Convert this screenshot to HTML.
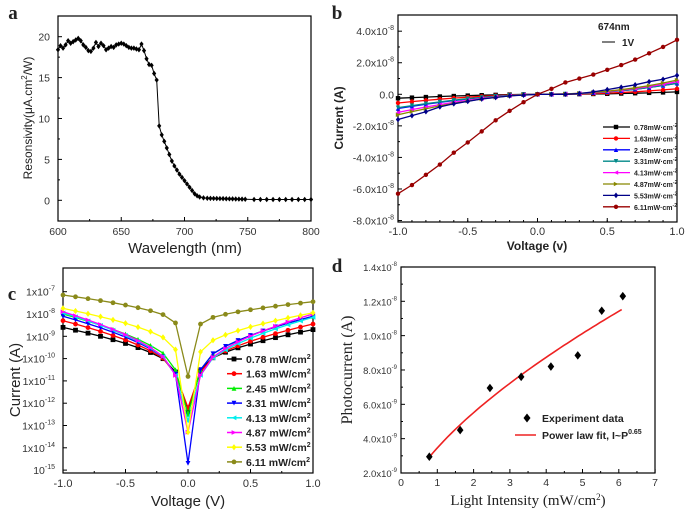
<!DOCTYPE html><html><head><style>body{margin:0;background:#fff}svg{display:block}</style></head><body>
<svg id="s" width="685" height="511" xmlns="http://www.w3.org/2000/svg" font-family="Liberation Sans, Arial, sans-serif"></svg>
<script>
const S=document.getElementById('s');let h='';
const T=(x,y,t,o={})=>{h+=`<text x="${x}" y="${y}" font-size="${o.fs||11}" text-anchor="${o.a||'middle'}" ${o.b?'font-weight="bold"':''} style="font-family:${o.ff?"'Liberation Serif',serif":"'Liberation Sans',Arial,sans-serif"}" ${o.tr?`transform="${o.tr}"`:''} fill="${o.c||'#222'}">${t}</text>`};
const L=(x1,y1,x2,y2,c='#000',w=1)=>{h+=`<line x1="${x1}" y1="${y1}" x2="${x2}" y2="${y2}" stroke="${c}" stroke-width="${w}"/>`};
const P=(pts,c,w=1)=>{h+=`<polyline points="${pts.map(p=>p[0].toFixed(1)+','+p[1].toFixed(1)).join(' ')}" fill="none" stroke="${c}" stroke-width="${w}"/>`};
function M(x,y,t,c,r=2.6){let p;
 if(t==0)h+=`<rect x="${x-r}" y="${y-r}" width="${2*r}" height="${2*r}" fill="${c}"/>`;
 else if(t==1||t==7)h+=`<circle cx="${x}" cy="${y}" r="${r}" fill="${c}"/>`;
 else{ if(t==2)p=[[0,-r],[r,r],[-r,r]];if(t==3)p=[[0,r],[r,-r],[-r,-r]];if(t==4)p=[[-r,0],[r,-r],[r,r]];if(t==5)p=[[r,0],[-r,-r],[-r,r]];if(t==6)p=[[0,-r*1.3],[r,0],[0,r*1.3],[-r,0]];
 h+=`<polygon points="${p.map(q=>(x+q[0])+','+(y+q[1])).join(' ')}" fill="${c}"/>`;}}
function box(x1,y1,x2,y2){h+=`<rect x="${x1}" y="${y1}" width="${x2-x1}" height="${y2-y1}" fill="none" stroke="#000" stroke-width="1.2"/>`}
T(13,19,'a',{fs:19,b:1,ff:1});T(337,19,'b',{fs:19,b:1,ff:1});
T(12,300,'c',{fs:19,b:1,ff:1});T(337,272,'d',{fs:19,b:1,ff:1});
// ---- panel a
{const X=v=>58+(v-600)*1.265,Y=v=>200.3-v*8.18;box(58,16,311,221);
[600,650,700,750,800].forEach(v=>{L(X(v),221,X(v),217);T(X(v),235,v,{fs:10.5,c:'#333'})});
[625,675,725,775].forEach(v=>L(X(v),221,X(v),219));
[0,5,10,15,20].forEach(v=>{L(58,Y(v),62,Y(v));T(50,Y(v)+4,v,{fs:10.5,a:'end',c:'#333'})});
[2.5,7.5,12.5,17.5].forEach(v=>L(58,Y(v),60,Y(v)));
T(185,253,'Wavelength (nm)',{fs:15});
T(0,0,'Resonsivity(μA.cm<tspan dy="-5" font-size="8">2</tspan><tspan dy="5">/W)</tspan>',{fs:12,tr:'translate(32,118) rotate(-90)'});
const k=[[600,18.4],[602,18.9],[604,18.6],[606,19],[608,19.5],[610,19.2],[612,19.4],[614,19.6],[616,19.8],[618,19.5],[620,19],[622,18.7],[624,18.3],[626,18.2],[628,18.6],[630,19.3],[632,18.8],[634,19.2],[636,18.9],[638,18.4],[640,18.6],[642,18.8],[644,18.7],[646,19],[648,19.1],[650,19.2],[652,19.1],[654,18.9],[656,18.7],[658,18.6],[660,18.6],[662,18.5],[664,18.4],[666,19.1],[668,18.3],[670,17.3],[672,16.6],[674,16.5],[676,15.5],[678,14.7],[680,9.1],[682,8],[684,7.2],[686,6.4],[688,5.6],[690,4.8],[692,4.2],[694,3.7],[696,3.2],[698,2.8],[700,2.4],[702,2],[704,1.6],[706,1.2],[708,0.8],[710,0.55],[712,0.4],[715,0.3]];
for(let w=718;w<=750;w+=2.5)k.push([w,0.25-(w-718)*0.004]);for(let w=755;w<=800;w+=5)k.push([w,0.1]);
P(k.map(p=>[X(p[0]),Y(p[1])]),'#000');k.forEach(p=>M(X(p[0]),Y(p[1]),6,'#000',2.1));}
// ---- panel b
{const X=v=>398+(v+1)*139.5,Y=v=>94.3-v*15.78;box(398,15,677,222);
[-1,-0.5,0,0.5,1].forEach(v=>{L(X(v),222,X(v),218);T(X(v),235,v.toFixed(1),{fs:11,c:'#333'})});
for(let v=-0.9;v<1;v+=0.1)L(X(v),222,X(v),220);
[4,2,0,-2,-4,-6,-8].forEach(v=>{L(398,Y(v),402,Y(v));T(394,Y(v)+4,v==0?'0.0':v.toFixed(1)+'x10<tspan dy="-5" font-size="7">-8</tspan>',{fs:10.5,a:'end',c:'#333'})});
[3,1,-1,-3,-5,-7].forEach(v=>L(398,Y(v),400,Y(v)));
T(537,250,'Voltage (v)',{fs:12,b:1});T(0,0,'Current (A)',{fs:12,b:1,tr:'translate(343,118) rotate(-90)'});
T(598,30,'674nm',{fs:10,b:1,a:'start'});L(602,42,615,42);T(622,46,'1V',{fs:10,b:1,a:'start'});
const cols=['#000','#f00','#00f','#088','#f0f','#888800','#008','#900'];
const lbl=['0.78','1.63','2.45','3.31','4.13','4.87','5.53','6.11'];
const D=[[-0.25,0.15],[-0.55,0.35],[-0.9,0.7],[-0.85,0.7],[-1.15,0.8],[-1.3,0.9],[-1.6,1.2]];
const red=[-6.3,-5.75,-5.1,-4.45,-3.7,-3.05,-2.35,-1.65,-1.05,-0.5,0,0.35,0.75,1.0,1.25,1.55,1.85,2.2,2.6,3.0,3.45];
const bl=[-1.6,-1.35,-1.1,-0.8,-0.6,-0.45,-0.3,-0.2,-0.1,-0.05,0,0,0,0.05,0.15,0.3,0.45,0.6,0.8,0.95,1.2];
for(let s=0;s<8;s++){let pts=[];for(let i=0;i<=20;i++){const v=-1+i*0.1;let y;
 if(s==7)y=red[i];else if(s==6)y=bl[i];else{const t=Math.abs(v);y=v<0?D[s][0]*Math.pow(t,1.6):D[s][1]*Math.pow(t,2.2);}
 pts.push([X(v),Y(y)]);}
 P(pts,cols[s],1.3);pts.forEach(p=>M(p[0],p[1],s,cols[s],2.2));
 const ly=127+s*11.4;L(603,ly,630,ly,cols[s],1.3);M(616,ly,s,cols[s],2.2);T(634,ly+3,lbl[s]+'mW·cm<tspan dy="-3" font-size="5">-2</tspan>',{fs:7,b:1,a:'start'});}}
// ---- panel c
{const X=v=>63+(v+1)*125,Y=l=>291.7+(-7-l)*22.3;box(63,268,313,473);
[-1,-0.5,0,0.5,1].forEach(v=>{L(X(v),473,X(v),469);T(X(v),487,v.toFixed(1),{fs:11,c:'#333'})});
for(let v=-0.75;v<1;v+=0.5)L(X(v),473,X(v),471);
for(let e=-7;e>=-15;e--){L(63,Y(e),67,Y(e));T(55,Y(e)+4,(e==-15?'10':'1x10')+`<tspan dy="-5" font-size="7">${e}</tspan>`,{fs:10.5,a:'end',c:'#333'})}
T(188,506,'Voltage (V)',{fs:15});T(0,0,'Current (A)',{fs:15,tr:'translate(20,380) rotate(-90)'});
const cols=['#000','#f00','#0e0','#00f','#0ee','#f0f','#ff0','#8a8a1a'];
const lbl=['0.78','1.63','2.45','3.31','4.13','4.87','5.53','6.11'];
const Pm=[[-8.6,-8.7,-10.6,-10.5,-12.4],[-8.3,-8.45,-10.7,-10.6,-12.2],[-8.0,-8.1,-10.5,-10.5,-12.5],[-8.1,-8.1,-10.7,-10.5,-14.7],[-7.95,-8.15,-10.75,-10.75,-12.8],[-7.9,-8.0,-10.75,-10.75,-13.3],[-7.75,-7.95,-9.6,-9.7,-13.3],[-7.15,-7.45,-8.4,-8.45,-10.8]];
for(let s=0;s<8;s++){const p=Pm[s];let pts=[];for(let i=0;i<=20;i++){const v=(i-10)/10;let l;
 if(i==10)l=p[4];else{const t=Math.max(0,(Math.abs(v)-0.1)/0.9),f=Math.pow(t,0.55);l=v<0?p[2]+(p[0]-p[2])*f:p[3]+(p[1]-p[3])*f;}
 pts.push([X(v),Y(l)]);}
 P(pts,cols[s],1.3);pts.forEach(q=>M(q[0],q[1],s,cols[s],2.4));
 const ly=359+s*14.7;L(227,ly,242,ly,cols[s],1.5);M(234,ly,s,cols[s],2.4);T(246,ly+4,lbl[s]+' mW/cm<tspan dy="-4" font-size="7">2</tspan>',{fs:10.5,b:1,a:'start'});}}
// ---- panel d
{const X=v=>401+v*36.3,Y=v=>473-(v-2)*17.17;box(401,267,655,473);
for(let v=0;v<=7;v++){L(X(v),473,X(v),469);T(X(v),486,v,{fs:10.5,c:'#333'})}
for(let v=0.5;v<7;v++)L(X(v),473,X(v),471);
[2,4,6,8,10,12,14].forEach(v=>{L(401,Y(v),405,Y(v));const m=v>=10?(v/10).toFixed(1)+'x10<tspan dy="-5" font-size="6">-8</tspan>':v.toFixed(1)+'x10<tspan dy="-5" font-size="6">-9</tspan>';T(397,Y(v)+4,m,{fs:9.5,a:'end',c:'#333'})});
[3,5,7,9,11,13].forEach(v=>L(401,Y(v),403,Y(v)));
T(528,505,'Light Intensity (mW/cm<tspan dy="-5" font-size="9">2</tspan><tspan dy="5">)</tspan>',{fs:15,ff:1});
T(0,0,'Photocurrent (A)',{fs:16,ff:1,tr:'translate(352,370) rotate(-90)'});
let f=[];for(let p=0.78;p<=6.12;p+=0.1)f.push([X(p),Y(3.61*Math.pow(p,0.65)-0.15)]);P(f,'#e22',1.6);
[[0.78,2.95],[1.63,4.5],[2.45,6.95],[3.31,7.6],[4.13,8.2],[4.87,8.85],[5.53,11.45],[6.11,12.3]].forEach(q=>M(X(q[0]),Y(q[1]),6,'#000',3.3));
M(527,418,6,'#000',3.5);T(542,422,'Experiment data',{fs:10.5,b:1,a:'start'});
L(515,435,536,435,'#e22',1.6);T(542,439,'Power law fit, I~P<tspan dy="-5" font-size="7">0.65</tspan>',{fs:10.5,b:1,a:'start'});}
S.innerHTML=h;
</script></body></html>
